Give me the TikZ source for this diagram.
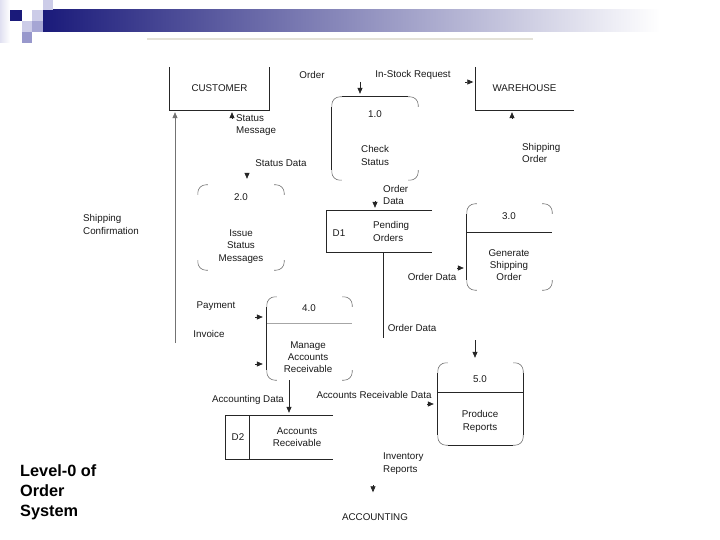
\documentclass[tikz,border=0pt]{standalone}
\usepackage{fontspec}
\setmainfont{Liberation Sans}
\usetikzlibrary{arrows.meta}
\definecolor{navy}{RGB}{26,26,122}
\definecolor{midbar}{RGB}{160,160,184}
\definecolor{lavA}{RGB}{204,204,232}
\definecolor{lavB}{RGB}{166,166,212}
\definecolor{lavC}{RGB}{152,152,204}
\definecolor{rule}{RGB}{228,226,216}
\newcommand\pcorners[1]{%
  \draw[corner] ([yshift=-10pt]#1.north west) -- (#1.north west) -- ([xshift=10pt]#1.north west);
  \draw[corner] ([xshift=-10pt]#1.north east) -- (#1.north east) -- ([yshift=-10pt]#1.north east);
  \draw[corner] ([yshift=10pt]#1.south east) -- (#1.south east) -- ([xshift=-10pt]#1.south east);
  \draw[corner] ([xshift=10pt]#1.south west) -- (#1.south west) -- ([yshift=10pt]#1.south west);}
\begin{document}
\begin{tikzpicture}[x=1pt,y=-1pt,
  txt/.style={font=\fontsize{9.8}{12.3}\selectfont, text=black!90, inner sep=0pt, align=center},
  ltxt/.style={txt, align=left, anchor=west},
  big/.style={font=\fontsize{16.3}{20}\selectfont\bfseries, inner sep=0pt, anchor=base west},
  shell/.style={draw=none, inner sep=0pt},
  edge/.style={draw=black!85, line width=0.7pt},
  corner/.style={draw=black!55, line width=0.6pt, rounded corners=8pt},
  arr/.style={edge, -{Triangle[length=6pt,width=5pt]}},
]
\useasboundingbox (0,0) rectangle (720,540);
% header
\shade[left color=navy, middle color=midbar, right color=white] (43,10) rectangle (660,32);
\shade[left color=lavA!60, right color=white] (0,0) rectangle (10,43);
\fill[navy] (10,10) rectangle (22,21);
\fill[lavA] (32,10) rectangle (43,21);
\fill[lavA] (43,0) rectangle (53,10);
\fill[lavA] (22,21) rectangle (32,32);
\fill[lavB] (32,21) rectangle (43,32);
\fill[lavC] (22,32) rectangle (32,43);
\draw[rule, line width=1.2pt] (147,39) -- (533,39);

% externals
\node[shell, txt, minimum width=99pt, minimum height=43pt] (cust) at (219.5,88.5) {CUSTOMER};
\draw[edge] (cust.north west) -- (cust.south west) -- (cust.south east) -- (cust.north east);
\node[shell, txt, minimum width=98pt, minimum height=43pt] (wh) at (524.5,88.5) {WAREHOUSE};
\draw[edge] (wh.north west) -- (wh.south west) -- (wh.south east);
\node[txt] (acc) at (375,517) {ACCOUNTING};

% processes
\node[shell, minimum width=86pt, minimum height=83pt] (p1) at (375,138.5) {};
\node[shell, minimum width=86pt, minimum height=85pt] (p2) at (241,227.5) {};
\node[shell, minimum width=85pt, minimum height=86pt] (p3) at (509.5,247) {};
\node[shell, minimum width=85pt, minimum height=83pt] (p4) at (309.5,338.5) {};
\node[shell, minimum width=85pt, minimum height=82pt] (p5) at (480.5,404) {};
\pcorners{p1}\pcorners{p2}\pcorners{p3}\pcorners{p4}\pcorners{p5}
\draw[edge] ([yshift=-10pt]p1.north west) -- ([yshift=10pt]p1.south west);
\draw[edge] ([xshift=10pt]p1.north west) -- ([xshift=-10pt]p1.north east);
\draw[edge] ([yshift=-10pt]p3.north west) -- ([yshift=10pt]p3.south west);
\draw[edge] ([yshift=-29pt]p3.north west) -- ([yshift=-29pt]p3.north east);
\draw[edge] ([yshift=-10pt]p4.north west) -- ([yshift=10pt]p4.south west);
\draw[draw=black!35, line width=0.7pt] ([yshift=-27pt]p4.north west) -- ([yshift=-27pt]p4.north east);
\draw[edge] ([yshift=-10pt]p5.north west) -- ([yshift=10pt]p5.south west);
\draw[edge] ([yshift=-10pt]p5.north east) -- ([yshift=10pt]p5.south east);
\draw[edge] ([xshift=10pt]p5.south west) -- ([xshift=-10pt]p5.south east);
\draw[edge] ([yshift=-30pt]p5.north west) -- ([yshift=-30pt]p5.north east);

% data stores
\node[shell, minimum width=105pt, minimum height=41pt] (d1) at (379.5,231.5) {};
\draw[edge] (d1.north east) -- (d1.north west) -- (d1.south west) -- (d1.south east);
\node[shell, minimum width=107pt, minimum height=43pt] (d2) at (279.5,437.5) {};
\draw[edge] (d2.north east) -- (d2.north west) -- (d2.south west) -- (d2.south east);
\draw[edge] ([xshift=24pt]d2.north west) -- ([xshift=24pt]d2.south west);

% connectors
\coordinate (scS) at (175,343);
\draw[draw=black!55, line width=0.7pt, -{Triangle[length=6pt,width=5pt]}, shorten >=2pt] (scS) -- (scS |- cust.south);
\coordinate (smS) at (232,118);
\draw[arr, shorten >=2pt] (smS) -- (smS |- cust.south);
\coordinate (sdS) at (247,173);
\draw[arr, shorten >=6pt] (sdS) -- (sdS |- p2.north);
\coordinate (isS) at (360,82);
\draw[arr, shorten >=3pt] (isS) -- (isS |- p1.north);
\coordinate (whA) at (465,82);
\draw[arr, shorten >=2pt] (whA) -- (whA -| wh.west);
\coordinate (soS) at (512,119);
\draw[arr, shorten >=2pt] (soS) -- (soS |- wh.south);
\coordinate (odS) at (375,201);
\draw[arr, shorten >=3pt] (odS) -- (odS |- d1.north);
\coordinate (d1L) at (383,338);
\draw[edge] (d1L |- d1.south) -- (d1L);
\coordinate (o3S) at (457,268);
\draw[arr, shorten >=3pt] (o3S) -- (o3S -| p3.west);
\coordinate (payS) at (255,317);
\draw[arr, shorten >=4pt] (payS) -- (payS -| p4.west);
\coordinate (invS) at (255,364);
\draw[arr, shorten >=4pt] (invS) -- (invS -| p4.west);
\coordinate (adX) at (289,0);
\draw[arr, shorten >=3pt] (adX |- p4.south) -- (adX |- d2.north);
\coordinate (ardS) at (427,404);
\draw[arr, shorten >=4pt] (ardS) -- (ardS -| p5.west);
\coordinate (o5S) at (475,340);
\draw[arr, shorten >=5pt] (o5S) -- (o5S |- p5.north);
\coordinate (irS) at (373,485);
\draw[arr, shorten >=21pt] (irS) -- (irS |- acc.north);

% labels
\node[txt] (tOrder) at (312,75) {Order};
\node[txt] (tIsr) at (413,75) {In-Stock Request};
\node[ltxt] (tSm) at (236,125) {Status\\Message};
\node[txt] (tSd) at (281,163) {Status Data};
\node[txt] (t1) at (375,114) {1.0};
\node[ltxt] (tCs) at (361,155.5) {Check\\Status};
\node[ltxt] (tSo) at (522,153) {Shipping\\Order};
\node[ltxt] (tOd1) at (383,195) {Order\\Data};
\node[ltxt] (tSc) at (83,224.5) {Shipping\\Confirmation};
\node[txt] (t2) at (241,197) {2.0};
\node[txt] (tIsm) at (241,246.5) {Issue\\Status\\Messages};
\node[txt] (tD1) at (339,233) {D1};
\node[ltxt] (tPo) at (373,231.5) {Pending\\Orders};
\node[txt] (t3) at (509,216) {3.0};
\node[txt] (tGso) at (509,265) {Generate\\Shipping\\Order};
\node[txt] (tOd3) at (432,277) {Order Data};
\node[txt] (tPay) at (216,306) {Payment};
\node[txt] (tInv) at (209,334) {Invoice};
\node[txt] (t4) at (309,308) {4.0};
\node[txt] (tMar) at (308,357) {Manage\\Accounts\\Receivable};
\node[txt] (tOd5) at (412,328) {Order Data};
\node[txt] (tAd) at (248,400) {Accounting Data};
\node[txt] (tArd) at (374,395) {Accounts Receivable Data};
\node[txt] (tD2) at (238,437) {D2};
\node[txt] (tAr) at (297,437) {Accounts\\Receivable};
\node[txt] (t5) at (480,379) {5.0};
\node[txt] (tPr) at (480,421.5) {Produce\\Reports};
\node[ltxt] (tIr) at (383,463.5) {Inventory\\Reports};

\node[big] (lv1) at (20,476) {Level-0 of};
\node[big] (lv2) at (20,496) {Order};
\node[big] (lv3) at (20,516) {System};
\end{tikzpicture}
\end{document}
